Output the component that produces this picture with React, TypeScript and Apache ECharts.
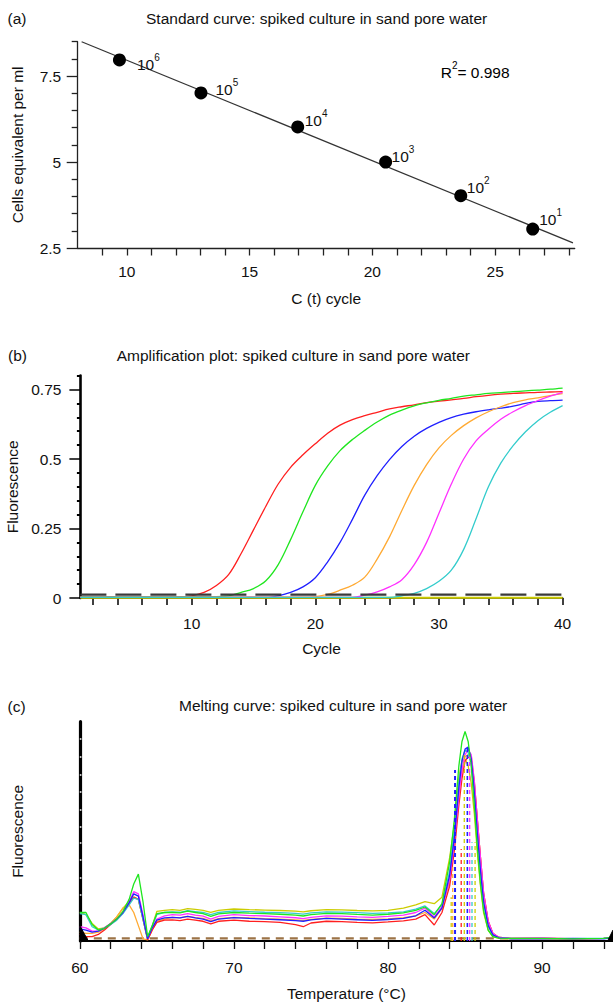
import React, { useEffect, useRef } from 'react';
import * as echarts from 'echarts';

const FONT = '"Liberation Sans", Arial, Helvetica, sans-serif';

// ---------- Panel (a): standard curve ----------
const stdCt = [9.7, 13.02, 16.96, 20.54, 23.6, 26.53];
const stdLog = [7.97, 7.01, 6.02, 5.0, 4.02, 3.05];
const stdExp = ['6', '5', '4', '3', '2', '1'];
const fitCt = [8.16, 28.17];
const fitLog = [8.5, 2.65];
const aXTicks = [9, 10, 11, 12, 13, 14, 15, 16, 17, 18, 19, 20, 21, 22, 23, 24, 25, 26, 27, 28];
const aXLabels = [10, 15, 20, 25];
const aYMajor = [2.5, 5, 7.5];
const aYMinor = [3, 3.5, 4, 4.5, 5.5, 6, 6.5, 7, 8, 8.5];
const rSquared = '0.998';

// ---------- Panel (b): amplification plot ----------
const ampCycles = [1, 2, 3, 4, 5, 6, 7, 8, 9, 10, 11, 12, 13, 14, 15, 16, 17, 18, 19, 20, 21, 22, 23, 24, 25, 26, 27, 28, 29, 30, 31, 32, 33, 34, 35, 36, 37, 38, 39, 40];
const ampRed = [0.004, 0.004, 0.004, 0.004, 0.004, 0.004, 0.004, 0.004, 0.004, 0.008, 0.02, 0.045, 0.085, 0.16, 0.245, 0.33, 0.41, 0.47, 0.515, 0.555, 0.593, 0.622, 0.642, 0.656, 0.668, 0.68, 0.688, 0.695, 0.703, 0.708, 0.713, 0.718, 0.724, 0.729, 0.733, 0.736, 0.738, 0.74, 0.741, 0.742];
const ampGreen = [0.005, 0.005, 0.005, 0.005, 0.005, 0.005, 0.005, 0.005, 0.005, 0.005, 0.005, 0.005, 0.008, 0.02, 0.034, 0.062, 0.12, 0.21, 0.31, 0.405, 0.475, 0.53, 0.57, 0.603, 0.633, 0.658, 0.676, 0.691, 0.702, 0.711, 0.718, 0.726, 0.731, 0.736, 0.739, 0.742, 0.745, 0.748, 0.751, 0.755];
const ampBlue = [0.002, 0.002, 0.002, 0.002, 0.002, 0.002, 0.002, 0.002, 0.002, 0.002, 0.002, 0.002, 0.002, 0.002, 0.002, 0.002, 0.008, 0.02, 0.04, 0.073, 0.13, 0.2, 0.283, 0.37, 0.44, 0.498, 0.545, 0.582, 0.61, 0.632, 0.649, 0.661, 0.67, 0.677, 0.683, 0.69, 0.7, 0.707, 0.71, 0.712];
const ampOrange = [0.003, 0.003, 0.003, 0.003, 0.003, 0.003, 0.003, 0.003, 0.003, 0.003, 0.003, 0.003, 0.003, 0.003, 0.003, 0.003, 0.003, 0.003, 0.003, 0.005, 0.013, 0.028, 0.046, 0.075, 0.14, 0.22, 0.315, 0.405, 0.48, 0.54, 0.585, 0.62, 0.648, 0.67, 0.688, 0.703, 0.713, 0.72, 0.728, 0.735];
const ampMagenta = [0.002, 0.002, 0.002, 0.002, 0.002, 0.002, 0.002, 0.002, 0.002, 0.002, 0.002, 0.002, 0.002, 0.002, 0.002, 0.002, 0.002, 0.002, 0.002, 0.002, 0.002, 0.002, 0.002, 0.01, 0.022, 0.04, 0.066, 0.12, 0.2, 0.305, 0.41, 0.5, 0.565, 0.607, 0.643, 0.67, 0.692, 0.71, 0.726, 0.74];
const ampCyan = [0.002, 0.002, 0.002, 0.002, 0.002, 0.002, 0.002, 0.002, 0.002, 0.002, 0.002, 0.002, 0.002, 0.002, 0.002, 0.002, 0.002, 0.002, 0.002, 0.002, 0.002, 0.002, 0.002, 0.002, 0.002, 0.002, 0.008, 0.017, 0.034, 0.06, 0.1, 0.175, 0.285, 0.4, 0.485, 0.548, 0.598, 0.638, 0.668, 0.692];
const thresholdCycles = [1, 40];
const thresholdValue = [0.012, 0.012];
const baselineValue = [0.001, 0.001];
const bXTicks = [2, 4, 6, 8, 10, 12, 14, 16, 18, 20, 22, 24, 26, 28, 30, 32, 34, 36, 38, 40];
const bXLabels = [10, 20, 30, 40];
const bYMajor = [0, 0.25, 0.5, 0.75];
const bYMinor = [0.05, 0.1, 0.15, 0.2, 0.3, 0.35, 0.4, 0.45, 0.55, 0.6, 0.65, 0.7, 0.8];

// ---------- Panel (c): melting curve ----------
const meltT = [60, 60.4, 60.8, 61.2, 61.6, 62, 62.4, 62.8, 63.2, 63.5, 63.8, 64.1, 64.4, 64.7, 65, 65.5,
  66, 66.5, 67, 67.5, 68, 68.5, 69, 70, 71, 72, 73, 74, 74.5, 75, 76, 77, 78, 79, 80, 81,
  81.8, 82.4, 83, 83.5, 84, 84.3, 84.6, 84.8, 85, 85.2, 85.4, 85.6, 85.8, 86, 86.2, 86.5, 86.8, 87.2, 88,
  90, 92, 94, 94.6];
const meltGreen = [0.13, 0.13, 0.075, 0.05, 0.058, 0.078, 0.1, 0.135, 0.19, 0.26, 0.305, 0.18, 0.02, 0.07, 0.125, 0.13,
  0.13, 0.128, 0.136, 0.13, 0.125, 0.112, 0.124, 0.13, 0.127, 0.125, 0.122, 0.118, 0.114, 0.12, 0.126, 0.125, 0.121, 0.118, 0.122, 0.128,
  0.14, 0.155, 0.12, 0.17, 0.36, 0.55, 0.8, 0.91, 0.955, 0.91, 0.8, 0.62, 0.42, 0.26, 0.14, 0.05, 0.02, 0.013, 0.012,
  0.012, 0.01, 0.012, 0.018];
const meltBlue = [0.055, 0.05, 0.04, 0.045, 0.058, 0.078, 0.1, 0.13, 0.175, 0.215, 0.205, 0.11, 0.01, 0.06, 0.095, 0.105,
  0.108, 0.105, 0.112, 0.105, 0.1, 0.088, 0.1, 0.107, 0.103, 0.1, 0.097, 0.093, 0.09, 0.096, 0.103, 0.1, 0.097, 0.094, 0.098, 0.103,
  0.115, 0.14, 0.105, 0.15, 0.3, 0.47, 0.7, 0.82, 0.875, 0.885, 0.83, 0.68, 0.49, 0.32, 0.18, 0.07, 0.028, 0.014, 0.01,
  0.01, 0.012, 0.01, 0.016];
const meltMagenta = [0.065, 0.06, 0.045, 0.045, 0.06, 0.08, 0.1, 0.13, 0.18, 0.225, 0.215, 0.12, 0.01, 0.06, 0.1, 0.115,
  0.12, 0.118, 0.125, 0.118, 0.113, 0.1, 0.112, 0.12, 0.116, 0.114, 0.11, 0.106, 0.102, 0.108, 0.115, 0.113, 0.11, 0.108, 0.112, 0.118,
  0.13, 0.15, 0.11, 0.155, 0.28, 0.45, 0.66, 0.78, 0.85, 0.872, 0.85, 0.73, 0.55, 0.38, 0.22, 0.09, 0.035, 0.016, 0.012,
  0.014, 0.01, 0.012, 0.017];
const meltCyan = [0.125, 0.12, 0.065, 0.05, 0.06, 0.075, 0.095, 0.125, 0.165, 0.195, 0.19, 0.1, 0.01, 0.07, 0.12, 0.13,
  0.133, 0.131, 0.138, 0.134, 0.13, 0.12, 0.13, 0.137, 0.134, 0.131, 0.129, 0.126, 0.123, 0.128, 0.133, 0.132, 0.129, 0.126, 0.128, 0.133,
  0.145, 0.16, 0.125, 0.165, 0.32, 0.5, 0.72, 0.83, 0.87, 0.86, 0.8, 0.66, 0.48, 0.31, 0.17, 0.07, 0.03, 0.016, 0.012,
  0.012, 0.011, 0.013, 0.018];
const meltRed = [0.03, 0.02, 0.02, 0.03, 0.05, 0.075, 0.1, 0.13, 0.17, 0.2, 0.19, 0.1, 0.005, 0.05, 0.085, 0.095,
  0.096, 0.093, 0.1, 0.095, 0.09, 0.078, 0.09, 0.095, 0.09, 0.088, 0.085, 0.075, 0.065, 0.082, 0.09, 0.088, 0.085, 0.083, 0.087, 0.092,
  0.1, 0.12, 0.073, 0.13, 0.25, 0.41, 0.62, 0.74, 0.82, 0.84, 0.83, 0.72, 0.55, 0.38, 0.22, 0.09, 0.035, 0.016, 0.012,
  0.012, 0.01, 0.012, 0.016];
const meltOrange = [0.04, 0.035, 0.035, 0.04, 0.055, 0.08, 0.11, 0.15, 0.165, 0.13, 0.07, 0.01, 0.005, 0.05, 0.09, 0.1,
  0.108, 0.105, 0.112, 0.107, 0.103, 0.092, 0.102, 0.108, 0.105, 0.102, 0.1, 0.096, 0.094, 0.099, 0.104, 0.103, 0.1, 0.098, 0.101, 0.106,
  0.115, 0.13, 0.1, 0.15, 0.27, 0.44, 0.66, 0.77, 0.84, 0.85, 0.845, 0.73, 0.55, 0.38, 0.22, 0.09, 0.035, 0.016, 0.012,
  0.013, 0.011, 0.012, 0.017];
const meltYellow = [0.13, 0.12, 0.08, 0.055, 0.06, 0.08, 0.11, 0.15, 0.18, 0.2, 0.19, 0.1, 0.01, 0.07, 0.135, 0.14,
  0.143, 0.14, 0.148, 0.144, 0.14, 0.13, 0.14, 0.146, 0.143, 0.141, 0.139, 0.136, 0.133, 0.138, 0.143, 0.142, 0.139, 0.137, 0.14, 0.15,
  0.165, 0.18, 0.17, 0.2, 0.38, 0.53, 0.75, 0.82, 0.83, 0.8, 0.72, 0.58, 0.4, 0.25, 0.13, 0.05, 0.02, 0.012, 0.01,
  0.011, 0.01, 0.012, 0.016];
const meltMarkT = [84.1, 84.2, 84.35, 84.75, 84.95, 85.15, 85.3, 85.45, 85.65];
const meltMarkTop = [0.2, 0.35, 0.78, 0.42, 0.86, 0.88, 0.84, 0.45, 0.45];
const meltBaseT = [60, 88];
const meltBaseV = [0.012, 0.012];
const cornerLeftT = [60, 60.55];
const cornerLeftV = [0.07, 0];
const cornerRightT = [94.25, 94.6];
const cornerRightV = [0, 0.05];
const cXTicks = [60, 62, 64, 66, 68, 70, 72, 74, 76, 78, 80, 82, 84, 86, 88, 90, 92, 94];
const cXLabels = [60, 70, 80, 90];
const cYMarks = [0.21, 0.29, 0.37, 0.45, 0.52, 0.6, 0.68, 0.76, 0.84, 0.92];

// ---------- styles ----------
const C = {
  red: '#ff1f1f', green: '#1fe61f', blue: '#2020ff', orange: '#ffaa33',
  magenta: '#ff30ff', cyan: '#33cccc', yellow: '#cccc00',
};
const markColors = [C.yellow, C.orange, C.blue, C.red, C.yellow, C.blue, C.magenta, C.cyan, C.yellow];
const markWidths = [1.3, 1.3, 2, 1.3, 1.3, 1.6, 1.3, 1.3, 1.3];
const stdLabelOffset = [[11, 3], [8, -5], [0.5, -8], [-0.5, -8], [-0.5, -10], [0, -11.5]];

const FS = 15.5;
const textBase = { fontFamily: FONT, fontSize: FS, color: '#111' };
const supRich = {
  b: { fontFamily: FONT, fontSize: FS, color: '#111', lineHeight: 20, verticalAlign: 'bottom' },
  s: { fontFamily: FONT, fontSize: 10, color: '#111', lineHeight: 10, verticalAlign: 'top' },
};

const pair = (xs: number[], ys: number[]) => xs.map((x, i) => [x, ys[i]]);

function gtext(text: string, x: number, y: number, align: string, extra: any = {}) {
  return {
    type: 'text', x, y, silent: true,
    style: {
      text, fontFamily: FONT, fontSize: FS, fill: '#111',
      align, textAlign: align, verticalAlign: 'middle', textVerticalAlign: 'middle', ...extra,
    },
  };
}

function buildOption(): any {
  const nameStyle = { fontFamily: FONT, fontSize: FS, color: '#111' };
  const xAxis = [
    {
      gridIndex: 0, type: 'value', min: 8, max: 28.24,
      axisLine: { show: true, onZero: false, lineStyle: { color: '#222', width: 1.3 } },
      axisTick: { show: true, customValues: aXTicks, length: 7.5, lineStyle: { color: '#222', width: 1.3 } },
      axisLabel: { show: true, customValues: aXLabels, margin: 15, ...textBase },
      splitLine: { show: false },
      name: 'C (t) cycle', nameLocation: 'middle', nameGap: 42, nameTextStyle: nameStyle,
    },
    {
      gridIndex: 1, type: 'value', min: 1, max: 40,
      axisLine: { show: true, onZero: false, lineStyle: { color: '#000', width: 1.6 } },
      axisTick: { show: true, customValues: bXTicks, length: 7, lineStyle: { color: '#000', width: 1.5 } },
      axisLabel: { show: true, customValues: bXLabels, margin: 17, ...textBase },
      splitLine: { show: false },
      name: 'Cycle', nameLocation: 'middle', nameGap: 42.5, nameTextStyle: nameStyle,
    },
    {
      gridIndex: 2, type: 'value', min: 60, max: 94.6,
      axisLine: { show: true, onZero: false, lineStyle: { color: '#000', width: 2 } },
      axisTick: { show: true, customValues: cXTicks, length: 8, lineStyle: { color: '#111', width: 1.3 } },
      axisLabel: { show: true, customValues: cXLabels, margin: 18, ...textBase },
      splitLine: { show: false },
      name: 'Temperature (°C)', nameLocation: 'middle', nameGap: 44.5, nameTextStyle: nameStyle,
    },
  ];
  const yAxis = [
    {
      gridIndex: 0, type: 'value', min: 2.5, max: 8.5,
      axisLine: { show: true, onZero: false, lineStyle: { color: '#222', width: 1.3 } },
      axisTick: { show: true, customValues: aYMajor, length: 11, lineStyle: { color: '#222', width: 1.3 } },
      axisLabel: { show: true, customValues: aYMajor, margin: 16.5, ...textBase },
      splitLine: { show: false },
      name: 'Cells equivalent per ml', nameLocation: 'middle', nameGap: 52, nameTextStyle: nameStyle,
    },
    {
      gridIndex: 0, type: 'value', min: 2.5, max: 8.5, position: 'left',
      axisLine: { show: false },
      axisTick: { show: true, customValues: aYMinor, length: 6, lineStyle: { color: '#222', width: 1.3 } },
      axisLabel: { show: false },
      splitLine: { show: false },
    },
    {
      gridIndex: 1, type: 'value', min: 0, max: 0.8,
      axisLine: { show: true, onZero: false, lineStyle: { color: '#000', width: 2.6 } },
      axisTick: { show: true, customValues: bYMajor, length: 11, lineStyle: { color: '#000', width: 1.5 } },
      axisLabel: { show: true, customValues: bYMajor, margin: 19, ...textBase },
      splitLine: { show: false },
      name: 'Fluorescence', nameLocation: 'middle', nameGap: 55, nameTextStyle: nameStyle,
    },
    {
      gridIndex: 1, type: 'value', min: 0, max: 0.8, position: 'left',
      axisLine: { show: false },
      axisTick: { show: true, customValues: bYMinor, length: 3.5, lineStyle: { color: '#000', width: 2 } },
      axisLabel: { show: false },
      splitLine: { show: false },
    },
    {
      gridIndex: 2, type: 'value', min: 0, max: 1,
      axisLine: { show: true, onZero: false, lineStyle: { color: '#000', width: 3.2 } },
      axisTick: { show: true, inside: true, customValues: cYMarks, length: 1.6, lineStyle: { color: '#fff', width: 1.5 } },
      axisLabel: { show: false },
      splitLine: { show: false },
      name: 'Fluorescence', nameLocation: 'middle', nameGap: 54.5, nameTextStyle: nameStyle,
    },
  ];

  const series: any[] = [];
  // (a)
  series.push({
    type: 'line', xAxisIndex: 0, yAxisIndex: 0, data: pair(fitCt, fitLog),
    showSymbol: false, silent: true, lineStyle: { color: '#333', width: 1.2 }, z: 2,
  });
  series.push({
    type: 'scatter', xAxisIndex: 0, yAxisIndex: 0, symbol: 'circle', symbolSize: 13,
    itemStyle: { color: '#000', opacity: 1 }, z: 3,
    label: { show: true, position: 'right', distance: 0, color: '#111', rich: supRich },
    data: stdCt.map((x, i) => ({
      value: [x, stdLog[i]],
      label: { offset: stdLabelOffset[i], formatter: '{b|10}{s|' + stdExp[i] + '}' },
    })),
  });
  // (b)
  series.push({
    type: 'line', xAxisIndex: 1, yAxisIndex: 2, data: pair(thresholdCycles, baselineValue),
    showSymbol: false, silent: true, lineStyle: { color: C.yellow, width: 2 }, z: 2,
  });
  const amp: [number[], string][] = [
    [ampRed, C.red], [ampGreen, C.green], [ampBlue, C.blue],
    [ampOrange, C.orange], [ampMagenta, C.magenta], [ampCyan, C.cyan],
  ];
  amp.forEach(([vals, color]) => {
    series.push({
      type: 'line', xAxisIndex: 1, yAxisIndex: 2, data: pair(ampCycles, vals),
      showSymbol: false, silent: true, smooth: 0.35,
      lineStyle: { color, width: 1.3 }, z: 3,
    });
  });
  series.push({
    type: 'line', xAxisIndex: 1, yAxisIndex: 2, data: pair(thresholdCycles, thresholdValue),
    showSymbol: false, silent: true, lineStyle: { color: '#3a3a3a', width: 2.4, type: [26, 9] }, z: 4,
  });
  // (c)
  series.push({
    type: 'line', xAxisIndex: 2, yAxisIndex: 4, data: pair(meltBaseT, meltBaseV),
    showSymbol: false, silent: true, lineStyle: { color: '#9c7346', width: 2.4, type: [8, 6] }, z: 2,
  });
  const melt: [number[], string][] = [
    [meltYellow, C.yellow], [meltOrange, C.orange], [meltRed, C.red], [meltCyan, C.cyan],
    [meltMagenta, C.magenta], [meltBlue, C.blue], [meltGreen, C.green],
  ];
  melt.forEach(([vals, color]) => {
    series.push({
      type: 'line', xAxisIndex: 2, yAxisIndex: 4, data: pair(meltT, vals),
      showSymbol: false, silent: true, lineStyle: { color, width: 1.3 }, z: 3,
    });
  });
  meltMarkT.forEach((t, i) => {
    series.push({
      type: 'line', xAxisIndex: 2, yAxisIndex: 4, data: [[t, 0], [t, meltMarkTop[i]]],
      showSymbol: false, silent: true,
      lineStyle: { color: markColors[i], width: markWidths[i], type: [4, 3] }, z: 4,
    });
  });
  [[cornerLeftT, cornerLeftV], [cornerRightT, cornerRightV]].forEach(([ts, vs]) => {
    series.push({
      type: 'line', xAxisIndex: 2, yAxisIndex: 4, data: pair(ts, vs),
      showSymbol: false, silent: true, lineStyle: { color: '#000', width: 1 },
      areaStyle: { color: '#000', opacity: 1 }, z: 5,
    });
  });

  const graphic = [
    gtext('(a)', 7.5, 18.3, 'left'),
    gtext('Standard curve: spiked culture in sand pore water', 146, 18.3, 'left'),
    {
      type: 'text', x: 440.7, y: 70, silent: true,
      style: {
        text: '{b|R}{s|2}{b|= ' + rSquared + '}', rich: supRich,
        align: 'left', textAlign: 'left', verticalAlign: 'middle', textVerticalAlign: 'middle',
      },
    },
    gtext('(b)', 8, 355, 'left'),
    gtext('Amplification plot: spiked culture in sand pore water', 116.7, 355, 'left'),
    gtext('(c)', 7.5, 706.5, 'left'),
    gtext('Melting curve: spiked culture in sand pore water', 179, 705, 'left'),
  ];

  return {
    animation: false,
    backgroundColor: '#fff',
    textStyle: { fontFamily: FONT },
    grid: [
      { left: 77.7, top: 41.7, width: 497, height: 206.3, outerBoundsMode: 'none', containLabel: false },
      { left: 80.4, top: 375.6, width: 482.2, height: 222.4, outerBoundsMode: 'none', containLabel: false },
      { left: 79.8, top: 721.7, width: 533.2, height: 219.3, outerBoundsMode: 'none', containLabel: false },
    ],
    xAxis, yAxis, series, graphic,
  };
}

export default function App() {
  const ref = useRef<HTMLDivElement>(null);
  useEffect(() => {
    if (!ref.current) return;
    const chart = echarts.init(ref.current, undefined, { renderer: 'svg' });
    chart.setOption(buildOption());
    return () => chart.dispose();
  }, []);
  return (
    <div
      ref={ref}
      style={{ position: 'absolute', left: 0, top: 0, width: 613, height: 1004, background: '#fff' }}
    />
  );
}
